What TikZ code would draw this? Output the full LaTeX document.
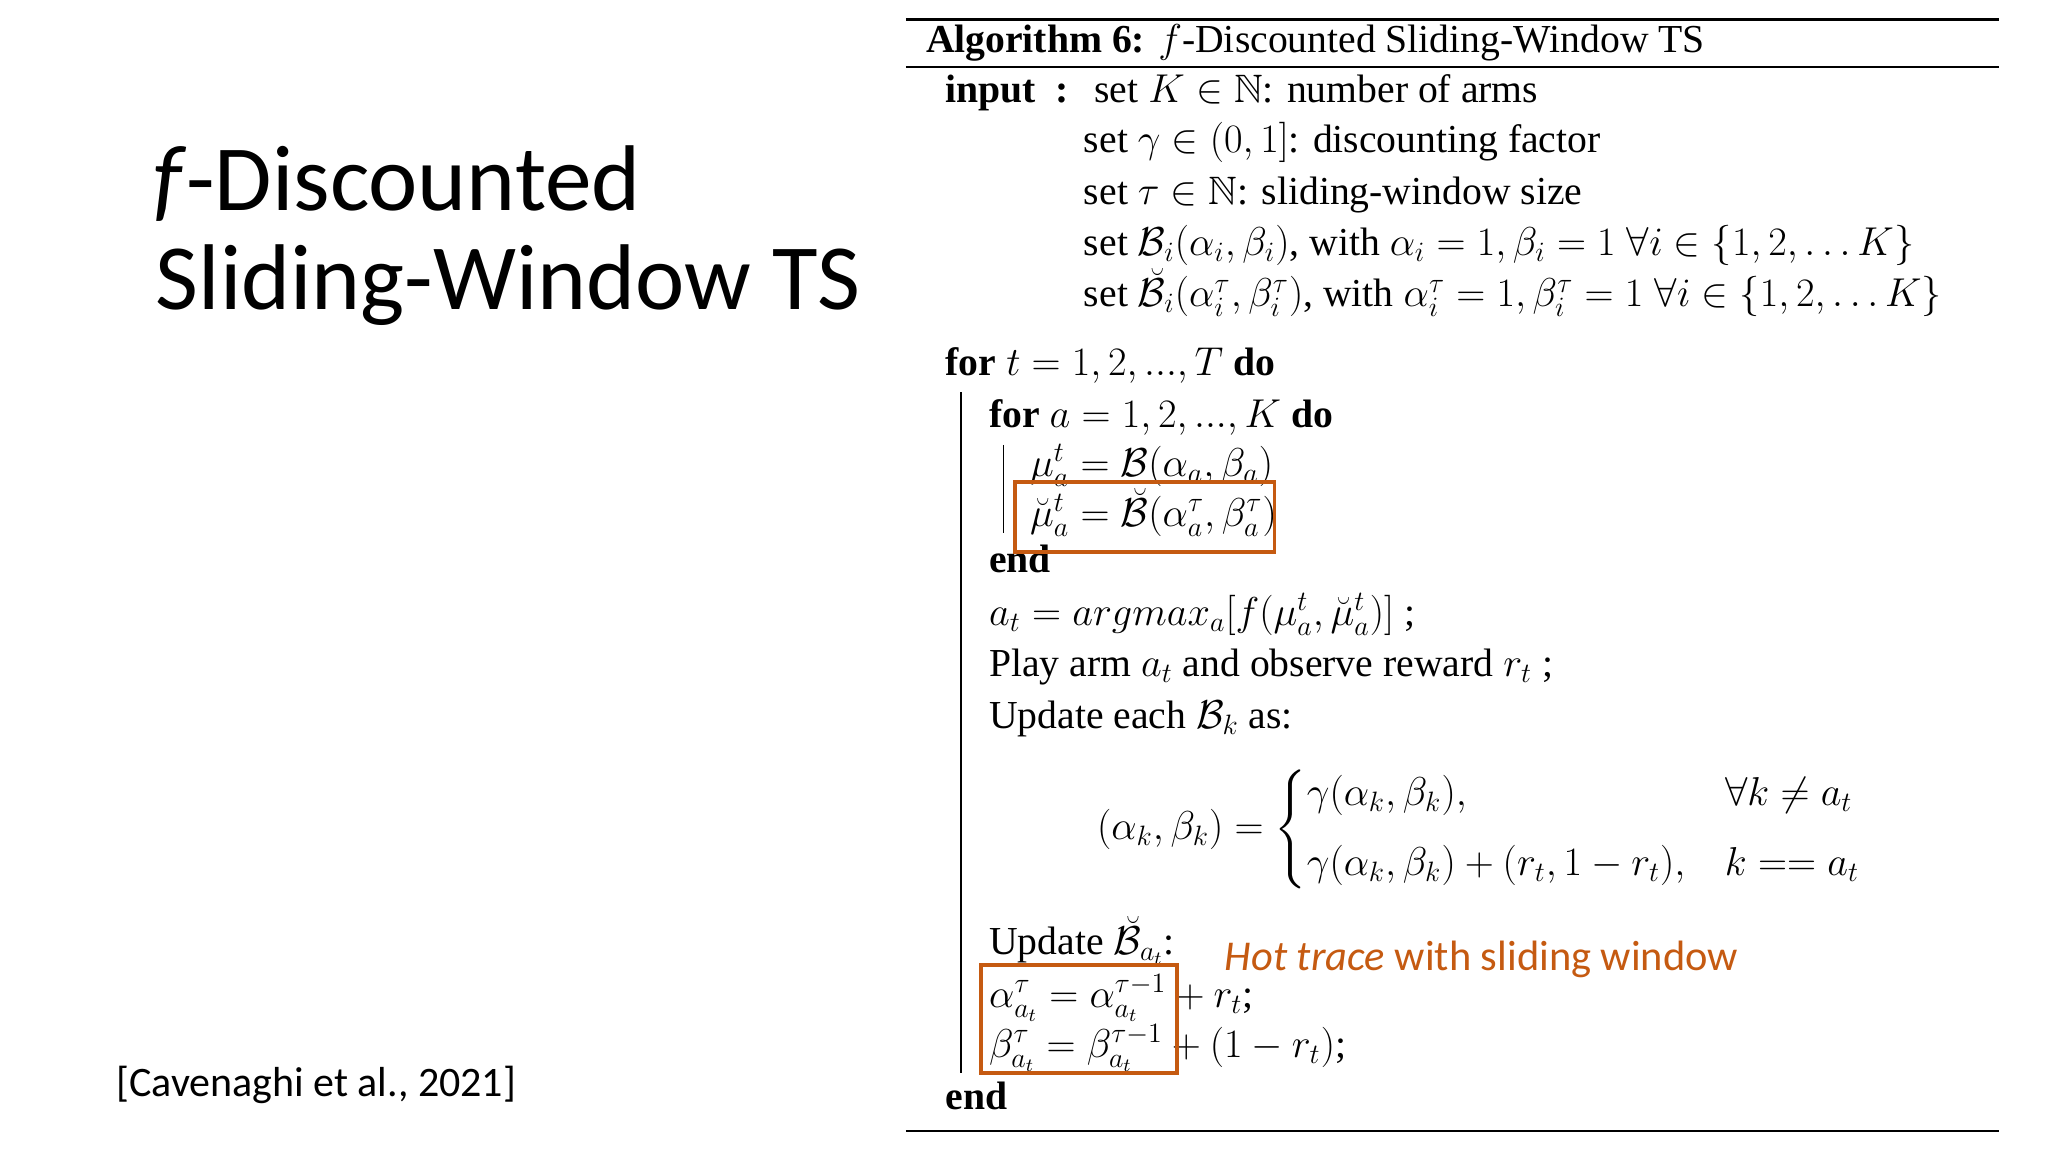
\documentclass[tikz,border=0pt]{standalone}
\usepackage{amsmath,amssymb}
\usepackage{fontspec}
\setmainfont{Liberation Serif}
\newfontfamily\slidefont{Carlito}
\definecolor{hot}{RGB}{197,90,17}
\begin{document}
\begin{tikzpicture}[x=0.01984cm,y=-0.01984cm,
  alg/.style={anchor=base west,inner sep=0,font=\fontsize{17}{20}\selectfont},
  ttl/.style={anchor=base west,inner sep=0,font=\slidefont\fontsize{40}{44}\selectfont},
  rulel/.style={line width=1.2pt},
  guide/.style={line width=0.6pt},
  hotbox/.style={draw=hot,line width=1.6pt}]
\useasboundingbox (0,0) rectangle (1555.6,875);
\fill[white] (0,0) rectangle (1555.6,875);
% title
\node[ttl] (t1) at (116,160) {\textit{f}-Discounted};
\node[ttl] (t2) at (118,235) {Sliding-Window TS};
\node[anchor=base west,inner sep=0,font=\slidefont\fontsize{18}{20}\selectfont] (cite) at (88,833) {[Cavenaghi et al., 2021]};
% rules
\coordinate (r1a) at (688,15); \coordinate (r1b) at (1518,15);
\coordinate (r2a) at (688,51); \coordinate (r2b) at (1518,51);
\coordinate (r3a) at (688,859); \coordinate (r3b) at (1518,859);
\draw[rulel] (r1a) -- (r1b);
\draw[guide] (r2a) -- (r2b);
\draw[rulel] (r3a) -- (r3b);
\node[alg] (head) at (703,40) {\textbf{Algorithm 6:} $f$-Discounted Sliding-Window TS};
\node[alg] (in) at (718,78) {\textbf{input}\ \ \textbf{:}};
\node[alg] (i1) at (831,78) {set $K\in\mathbb{N}$: number of arms};
\node[alg] (i2) at (823,116) {set $\gamma\in(0,1]$: discounting factor};
\node[alg] (i3) at (823,155) {set $\tau\in\mathbb{N}$: sliding-window size};
\node[alg] (i4) at (823,194) {set $\mathcal{B}_i(\alpha_i,\beta_i)$, with $\alpha_i=1,\beta_i=1\;\forall i\in\{1,2,\dots K\}$};
\node[alg] (i5) at (823,233) {set $\breve{\mathcal{B}}_i(\alpha^\tau_i,\beta^\tau_i)$, with $\alpha^\tau_i=1,\beta^\tau_i=1\;\forall i\in\{1,2,\dots K\}$};
\node[alg] (fort) at (718,285) {\textbf{for} $t=1,2,...,T$ \textbf{do}};
\node[alg] (fora) at (751,325) {\textbf{for} $a=1,2,...,K$ \textbf{do}};
\node[alg] (mu) at (782,362) {$\mu^t_a=\mathcal{B}(\alpha_a,\beta_a)$};
\node[alg] (mub) at (782,400) {$\breve{\mu}^t_a=\breve{\mathcal{B}}(\alpha^\tau_a,\beta^\tau_a)$};
\node[alg] (end1) at (751,435) {\textbf{end}};
\node[alg] (at) at (751,475) {$a_t=argmax_a[f(\mu^t_a,\breve{\mu}^t_a)]$ ;};
\node[alg] (play) at (751,514) {Play arm $a_t$ and observe reward $r_t$ ;};
\node[alg] (upd) at (751,553) {Update each $\mathcal{B}_k$ as:};
\node[alg,anchor=west] (cases) at (833,630) {$(\alpha_k,\beta_k)=\begin{cases}\gamma(\alpha_k,\beta_k), & \forall k\neq a_t\\[6pt] \gamma(\alpha_k,\beta_k)+(r_t,1-r_t), & k==a_t\end{cases}$};
\node[alg] (updb) at (751,725) {Update $\breve{\mathcal{B}}_{a_t}$:};
\node[alg] (al) at (751,765) {$\alpha^\tau_{a_t}=\alpha^{\tau-1}_{a_t}+r_t$;};
\node[alg] (be) at (751,803) {$\beta^\tau_{a_t}=\beta^{\tau-1}_{a_t}+(1-r_t)$;};
\node[alg] (end2) at (718,843) {\textbf{end}};
\node[anchor=base west,inner sep=0,font=\slidefont\fontsize{18.2}{22}\selectfont,text=hot] (hot) at (930,737) {\textit{Hot trace} with sliding window};
% guides
\coordinate (g1a) at (730,298); \coordinate (g1b) at (730,815);
\coordinate (g2a) at (762,338); \coordinate (g2b) at (762,405);
\draw[guide] (g1a) -- (g1b);
\draw[guide] (g2a) -- (g2b);
% boxes
\coordinate (b1a) at (771,366); \coordinate (b1b) at (968,419);
\coordinate (b2a) at (745,733); \coordinate (b2b) at (894,815);
\draw[hotbox] (b1a) rectangle (b1b);
\draw[hotbox] (b2a) rectangle (b2b);
\end{tikzpicture}
\end{document}
